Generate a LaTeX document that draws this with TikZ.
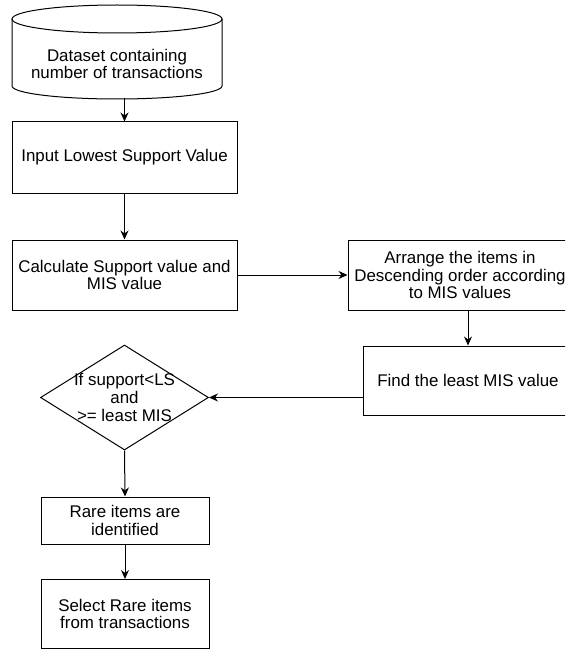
\documentclass[tikz,border=0pt]{standalone}
\usepackage{fontspec}
\setmainfont{Liberation Sans}
\usetikzlibrary{shapes.geometric,arrows.meta}
\begin{document}
\begin{tikzpicture}[x=1pt,y=-1pt,
  box/.style={draw=black,line width=1pt,align=center,inner sep=2pt,font=\fontsize{16.9}{17.8}\selectfont},
  txt/.style={align=center,inner sep=0pt,font=\fontsize{16.9}{17.8}\selectfont},
  arr/.style={draw=black,line width=1pt,-{Stealth[length=9pt,width=8pt]}}]
\useasboundingbox (0,0) rectangle (565,650);
\clip (0,0) rectangle (565,650);
\fill[white] (0,0) rectangle (565,650);
% cylinder
\draw[line width=1pt] (117,19) ellipse [x radius=105, y radius=14];
\draw[line width=1pt] (12,19) -- (12,86) arc[start angle=180, end angle=0, x radius=105, y radius=13] -- (222,19);
\node[txt,minimum width=210pt,minimum height=68pt] (ds) at (117,64) {Dataset containing\\number of transactions};
% boxes
\node[box,minimum width=225pt,minimum height=71pt] (b1) at (124.5,157.5) {Input Lowest Support Value};
\node[box,minimum width=225pt,minimum height=70pt] (b2) at (124.5,275) {Calculate Support value and\\MIS value};
\node[box,minimum width=224pt,minimum height=70pt] (b3) at (460,275) {Arrange the items in\\Descending order according\\to MIS values};
\node[box,minimum width=210pt,minimum height=69pt] (b4) at (468,380.5) {Find the least MIS value};
\node[diamond,draw=black,line width=1pt,inner sep=0pt,minimum width=168pt,minimum height=105pt] (d) at (124.5,397.5) {};
\node[txt] (dt) at (d.center) {If support<LS\\and\\>= least MIS};
\node[box,minimum width=168pt,minimum height=47pt] (b5) at (125,520.5) {Rare items are\\identified};
\node[box,minimum width=168pt,minimum height=69pt] (b6) at (125,614) {Select Rare items\\from transactions};
% connectors
\draw[arr] (ds.south -| b1.north) -- (b1.north);
\draw[arr] (b1.south) -- (b2.north);
\draw[arr] (b2.east) -- (b3.west);
\draw[arr] (b3.south -| b4.north) -- (b4.north);
\draw[arr] (b4.west |- d.east) -- (d.east);
\draw[arr] (d.south) -- (b5.north);
\draw[arr] (b5.south) -- (b6.north);
\end{tikzpicture}
\end{document}
